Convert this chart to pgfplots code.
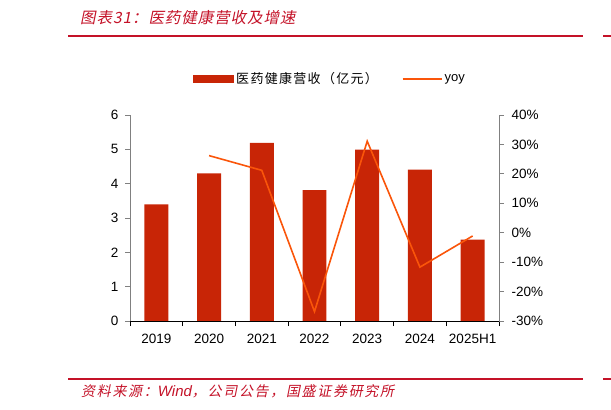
\documentclass[border=0pt]{standalone}
\usepackage{fontspec}
\setmainfont{Liberation Sans}
\newfontfamily\cjk[LetterSpace=10]{Noto Sans CJK SC}
\newfontfamily\cjkit[FakeSlant=0.2,LetterSpace=6]{Noto Sans CJK SC}
\newfontfamily\cjksrc[FakeSlant=0.2,LetterSpace=12]{Noto Sans CJK SC}
\usepackage{pgfplots}
\pgfplotsset{compat=1.18}

\definecolor{barred}{RGB}{200,37,6}
\definecolor{yoyline}{RGB}{250,85,10}
\definecolor{gsred}{RGB}{196,18,40}
\definecolor{axgray}{RGB}{128,128,128}

\begin{document}
\begin{tikzpicture}
\path[use as bounding box] (0pt,0pt) rectangle (611pt,410pt);

% header and footer
\node[anchor=west, text=gsred, inner sep=0pt] at (80pt,392pt)
  {\fontsize{15.5}{15.5}\selectfont\cjkit 图表31：医药健康营收及增速};
\draw[gsred, line width=1.6pt] (68pt,374pt) -- (583pt,374pt);
\draw[gsred, line width=1.6pt] (603pt,374pt) -- (611pt,374pt);
\draw[gsred, line width=1.6pt] (68pt,31pt) -- (583pt,31pt);
\draw[gsred, line width=1.6pt] (603pt,31pt) -- (611pt,31pt);
\node[anchor=west, text=gsred, inner sep=0pt] at (81pt,19pt)
  {\fontsize{14}{14}\selectfont\cjksrc 资料来源：{\normalfont\itshape\fontsize{15}{15}\selectfont Wind}，公司公告，国盛证券研究所};

\begin{axis}[
  at={(130pt,89pt)}, anchor=south west,
  width=369pt, height=206pt, scale only axis,
  xmin=-0.5, xmax=6.5, ymin=0, ymax=6,
  axis x line*=bottom, axis y line*=left,
  x axis line style={black, line width=0.8pt},
  y axis line style={axgray, line width=0.8pt},
  xtick={0,...,6},
  xticklabels={2019,2020,2021,2022,2023,2024,2025H1},
  xticklabel style={yshift=-5pt},
  yticklabel style={xshift=-3pt},
  major x tick style={draw=none},
  minor xtick={-0.5,0.5,...,6.5},
  minor x tick style={black, line width=0.8pt},
  minor tick length=5pt,
  ytick={0,...,6},
  y tick style={axgray, line width=0.8pt},
  major tick length=5pt,
  tick align=outside,
  tick label style={font=\fontsize{13.5}{13.5}\selectfont},
  /pgf/number format/assume math mode=true,
  legend columns=2,
  legend style={at={(0.542,1.175)}, anchor=center, draw=none, fill=none,
    font=\fontsize{13}{13}\selectfont,
    /tikz/every even column/.append style={column sep=22pt},
    nodes={inner sep=2pt}},
]
\addplot[ybar, bar width=0.455, fill=barred, draw=none,
  legend image code/.code={\fill[barred] (0pt,-4pt) rectangle (41pt,4pt);}]
  coordinates {(0,3.40) (1,4.30) (2,5.19) (3,3.81) (4,4.99) (5,4.41) (6,2.37)};
\addlegendentry{\cjk 医药健康营收（亿元）}
\addlegendimage{legend image code/.code={\draw[yoyline, line width=1.6pt] (0pt,0pt) -- (39pt,0pt);}}
\addlegendentry{yoy}
\end{axis}

\begin{axis}[
  at={(130pt,89pt)}, anchor=south west,
  width=369pt, height=206pt, scale only axis,
  xmin=-0.5, xmax=6.5, ymin=-30, ymax=40,
  axis x line=none, axis y line*=right,
  y axis line style={axgray, line width=0.8pt},
  ytick={-30,-20,...,40},
  yticklabel={\pgfmathprintnumber{\tick}\%},
  yticklabel style={xshift=4pt},
  y tick style={axgray, line width=0.8pt},
  major tick length=5pt,
  tick align=outside,
  tick label style={font=\fontsize{13.5}{13.5}\selectfont},
  /pgf/number format/assume math mode=true,
]
\addplot[yoyline, line width=1.6pt, mark=none]
  coordinates {(1,26.2) (2,21.2) (3,-26.8) (4,31.1) (5,-11.7) (6,-1.1)};
\end{axis}
\end{tikzpicture}
\end{document}
